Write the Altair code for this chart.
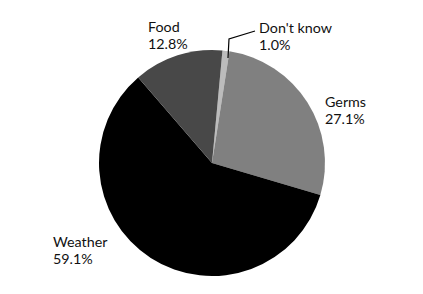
import math
import altair as alt
import pandas as pd

# Survey answers, in clockwise order starting just right of 12 o'clock
categories = ["Don't know", "Germs", "Weather", "Food"]
shares = [1.0, 27.1, 59.1, 12.8]
label_text = ["1.0%", "27.1%", "59.1%", "12.8%"]
fills = ["#bcbcbc", "#808080", "#000000", "#484848"]

df = pd.DataFrame({
    "category": categories,
    "share": shares,
    "pct": label_text,
    "order": list(range(len(categories))),
})

CX, CY, R = 212, 163, 113
start = math.radians(5.3)

base = alt.Chart(df)

pie = base.mark_arc(outerRadius=R, stroke=None).encode(
    theta=alt.Theta("share:Q", stack=True,
                    scale=alt.Scale(range=[start, start + 2 * math.pi])),
    order=alt.Order("order:Q"),
    color=alt.Color("category:N",
                    scale=alt.Scale(domain=categories, range=fills),
                    legend=None),
    x=alt.value(CX),
    y=alt.value(CY),
)

# Label anchor (left edge, baseline of first line) for each slice
anchors = {
    "Don't know": (259, 33),
    "Germs": (325, 107),
    "Weather": (53, 247),
    "Food": (148, 32),
}

FONT = "Lato"
SIZE = 14.3
LINE = 17
layers = [pie]
for cat in categories:
    lx, ly = anchors[cat]
    sub = base.transform_filter(alt.datum.category == cat)
    layers.append(sub.mark_text(align="left", baseline="alphabetic",
                                font=FONT, fontSize=SIZE, color="#111111").encode(
        text="category:N", x=alt.value(lx), y=alt.value(ly)))
    layers.append(sub.mark_text(align="left", baseline="alphabetic",
                                font=FONT, fontSize=SIZE, color="#111111").encode(
        text="pct:N", x=alt.value(lx), y=alt.value(ly + LINE)))

# Leader line from the thin "Don't know" slice to its label
leader = alt.Chart(pd.DataFrame({"px": [228, 229, 255], "py": [58, 39, 31],
                                 "k": [0, 1, 2]})).mark_line(
    color="#000000", strokeWidth=1.2).encode(
    x=alt.X("px:Q", scale=alt.Scale(domain=[0, 423], range=[0, 423]), axis=None),
    y=alt.Y("py:Q", scale=alt.Scale(domain=[0, 294], range=[0, 294]), axis=None),
    order="k:Q",
)
layers.append(leader)

chart = alt.layer(*layers).properties(
    width=423, height=294,
    autosize=alt.AutoSizeParams(type="none"),
    padding=0,
).configure_view(stroke=None).resolve_scale(x="independent", y="independent")

chart.save("out.html", embed_options={"renderer": "svg", "actions": False})
